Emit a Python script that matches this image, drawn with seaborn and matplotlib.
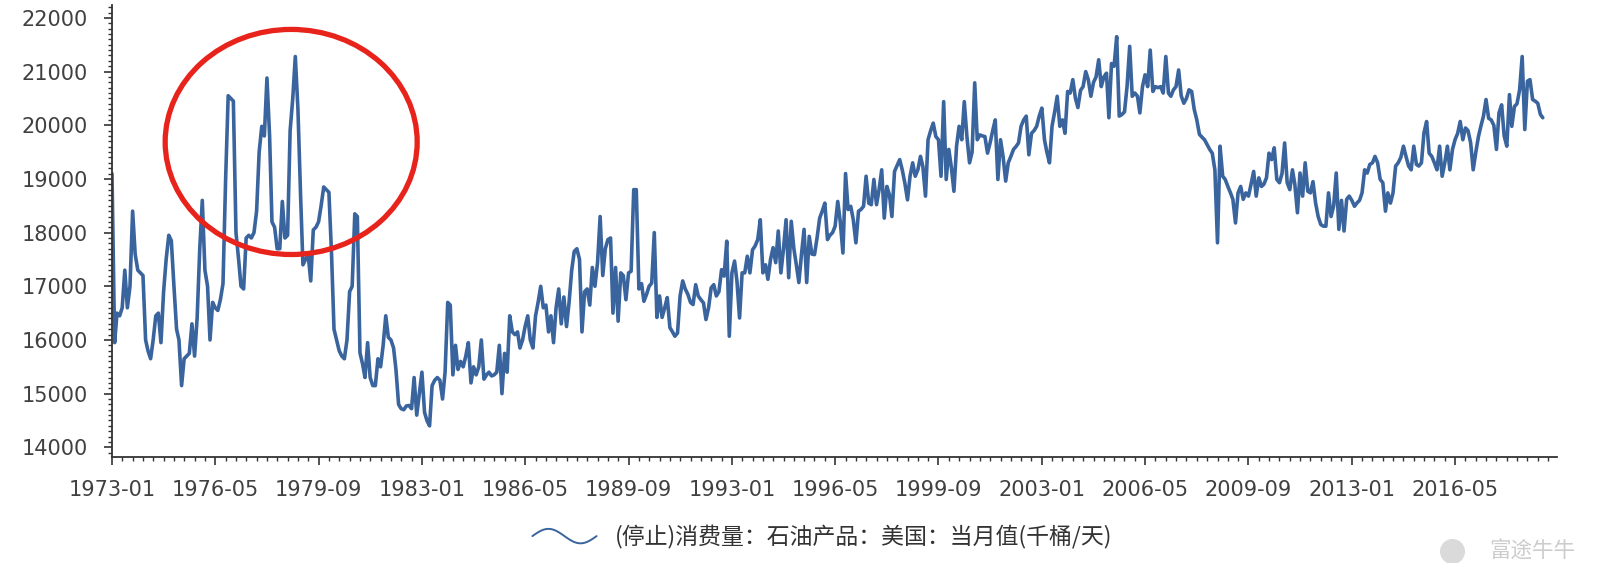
import numpy as np
import pandas as pd
import matplotlib
matplotlib.use("Agg")
import matplotlib.pyplot as plt
import seaborn as sns
from matplotlib.lines import Line2D
from matplotlib.patches import Ellipse
from matplotlib.legend_handler import HandlerBase
from matplotlib.ticker import MultipleLocator

# monthly values, thousand barrels / day, from 1973-01
cons_1970s = [
    19100, 15950, 16500, 16450, 16600, 17300, 16600, 17000, 18400, 17600, 17300, 17250,
    17200, 16000, 15800, 15650, 16000, 16450, 16500, 15950, 16900, 17500, 17950, 17850,
    17000, 16200, 16000, 15150, 15650, 15700, 15750, 16300, 15700, 16400, 17700, 18600,
    17300, 17000, 16000, 16700, 16600, 16550, 16750, 17050, 19000, 20550, 20500, 20450,
    18000, 17500, 17000, 16950, 17900, 17950, 17900, 18000, 18400, 19500, 19980, 19800,
    20880, 19800, 18200, 18100, 17700, 17700, 18580, 17900, 17950, 19900, 20500, 21280,
    20300, 18700, 17400, 17500, 17600, 17100, 18050, 18100, 18200, 18500, 18850, 18800,
]
cons_1980s = [
    18750, 17600, 16200, 16000, 15800, 15700, 15650, 16000, 16900, 17000, 18350, 18300,
    15760, 15550, 15300, 15950, 15300, 15150, 15150, 15650, 15500, 15900, 16450, 16050,
    16000, 15850, 15450, 14800, 14720, 14700, 14770, 14780, 14720, 15300, 14600, 15000,
    15400, 14650, 14500, 14400, 15150, 15250, 15300, 15250, 14900, 15400, 16700, 16650,
    15350, 15900, 15450, 15600, 15500, 15700, 15950, 15200, 15500, 15350, 15500, 16000,
    15270, 15350, 15400, 15330, 15350, 15400, 15900, 15000, 15750, 15400, 16450, 16150,
    16100, 16150, 15850, 16000, 16250, 16450, 16000, 15850, 16450, 16700, 17000, 16600,
    16650, 16150, 16450, 15950, 16600, 16950, 16300, 16800, 16250, 16700, 17300, 17650,
    17700, 17500, 16150, 16900, 16950, 16650, 17350, 17000, 17450, 18300, 17200, 17700,
    17870, 17900, 16500, 17350, 16350, 17250, 17200, 16750, 17250, 17280, 18800, 18800,
]
cons_1990s = [
    16950, 17050, 16720, 16850, 17000, 17060, 18000, 16420, 16820, 16420, 16600, 16790,
    16230, 16150, 16070, 16130, 16820, 17100, 16950, 16850, 16700, 16660, 17030, 16820,
    16750, 16690, 16380, 16600, 16970, 17030, 16820, 16900, 17310, 17190, 17840, 16070,
    17250, 17470, 17100, 16410, 17250, 17250, 17560, 17250, 17680, 17750, 17870, 18240,
    17250, 17400, 17130, 17500, 17720, 17440, 18030, 17250, 17700, 18240, 17160, 18210,
    17700, 17380, 17070, 17600, 18060, 17070, 17930, 17600, 17590, 17900, 18270, 18400,
    18550, 17870, 17950, 18000, 18120, 18580, 18200, 17620, 19100, 18430, 18490, 18240,
    17810, 18400, 18430, 18490, 19050, 18550, 18520, 18990, 18520, 18800, 19170, 18270,
    18860, 18700, 18300, 19140, 19250, 19360, 19170, 18920, 18610, 19050, 19300, 19050,
    19170, 19420, 19230, 18680, 19730, 19900, 20040, 19790, 19730, 19050, 20440, 18990,
]
cons_2000s = [
    19550, 19200, 18770, 19610, 19980, 19730, 20440, 19790, 19300, 19500, 20790, 19730,
    19820, 19800, 19790, 19480, 19670, 19900, 20100, 18990, 19730, 19420, 18960, 19300,
    19420, 19550, 19600, 19670, 19980, 20100, 20170, 19450, 19850, 19900, 19980, 20170,
    20320, 19730, 19500, 19300, 19980, 20250, 20540, 19980, 20100, 19850, 20630, 20600,
    20850, 20500, 20330, 20650, 20720, 21000, 20850, 20540, 20800, 20900, 21220, 20720,
    20900, 20970, 20140, 21150, 21100, 21650, 20170, 20200, 20250, 20720, 21470, 20540,
    20600, 20540, 20230, 20720, 20940, 20720, 21400, 20630, 20720, 20700, 20720, 20600,
    21280, 20600, 20540, 20660, 20720, 21030, 20550, 20410, 20500, 20660, 20630, 20300,
    20100, 19830, 19780, 19730, 19640, 19550, 19480, 19170, 17810, 19610, 19050, 18990,
    18860, 18740, 18620, 18180, 18740, 18860, 18620, 18740, 18680, 18900, 19140, 18680,
]
cons_2010s = [
    19020, 18860, 18900, 19020, 19480, 19360, 19580, 18990, 18930, 19100, 19670, 18930,
    18800, 19170, 18900, 18370, 19110, 18680, 19300, 18770, 18740, 18950, 18550, 18300,
    18150, 18120, 18120, 18740, 18300, 18500, 19110, 18060, 18600, 18030, 18620, 18680,
    18600, 18490, 18550, 18600, 18740, 19170, 19110, 19270, 19300, 19420, 19300, 18990,
    18930, 18400, 18740, 18550, 18740, 19240, 19300, 19400, 19610, 19420, 19240, 19170,
    19610, 19270, 19240, 19300, 19860, 20070, 19480, 19420, 19300, 19170, 19610, 19050,
    19300, 19610, 19170, 19550, 19730, 19850, 20070, 19730, 19950, 19900, 19670, 19170,
    19500, 19790, 19980, 20170, 20480, 20130, 20100, 20000, 19550, 20230, 20380, 19800,
    19610, 20570, 19980, 20350, 20400, 20660, 21280, 19920, 20820, 20850, 20480, 20450,
    20410, 20200, 20140,
]

series_label = "(停止)消费量：石油产品：美国：当月值(千桶/天)"
y_ticks = [14000, 15000, 16000, 17000, 18000, 19000, 20000, 21000, 22000]

values = cons_1970s + cons_1980s + cons_1990s + cons_2000s + cons_2010s
dates = pd.date_range("1973-01-01", periods=len(values), freq="MS")
df = pd.DataFrame({"date": dates, "value": values})

sns.set_style("ticks")
plt.rcParams["font.family"] = ["DejaVu Sans", "Noto Sans CJK SC"]

line_color = "#3a649d"
text_color = "#404040"
cjk = ["Noto Sans CJK SC", "DejaVu Sans"]

fig = plt.figure(figsize=(16, 5.63), dpi=100)
ax = fig.add_axes([0.07, 0.1883, 0.9031, 0.8028])

sns.lineplot(data=df, x="date", y="value", ax=ax, color=line_color,
             linewidth=2.6, label=series_label, legend=False)

ax.set_xlim(dates[0], pd.Timestamp("2019-08-15"))
ax.set_ylim(13820, 22240)

major = pd.date_range("1973-01-01", "2019-08-01", freq="40MS")
minor = pd.date_range("1973-01-01", "2019-08-01", freq="4MS")
ax.set_xticks(major)
ax.set_xticklabels(major.strftime("%Y-%m"))
ax.set_xticks(minor, minor=True)
ax.set_yticks(y_ticks)
ax.yaxis.set_minor_locator(MultipleLocator(100))

ax.set_xlabel("")
ax.set_ylabel("")
sns.despine(ax=ax)
for s in ["left", "bottom"]:
    ax.spines[s].set_color("#333333")
    ax.spines[s].set_linewidth(1.3)

ax.tick_params(axis="both", which="major", length=5.5, width=1.2, color="#333333",
               labelsize=15, labelcolor=text_color)
ax.tick_params(axis="both", which="minor", length=3, width=1.0, color="#333333")
ax.tick_params(axis="y", which="major", pad=12)
ax.tick_params(axis="x", which="major", pad=11)

# red highlight ellipse around the 1970s peaks
ax.add_patch(Ellipse((0.124, 0.697), 0.1744, 0.498, transform=ax.transAxes,
                     fill=False, edgecolor="#e8231b", linewidth=3.8,
                     zorder=5, clip_on=False))


class WaveHandler(HandlerBase):
    def create_artists(self, legend, orig_handle, xdescent, ydescent,
                       width, height, fontsize, trans):
        t = np.linspace(0, 1, 80)
        xs = -xdescent + width * t
        ys = -ydescent + height / 2 + height * 0.45 * np.sin(2 * np.pi * t)
        wave = Line2D(xs, ys, color=orig_handle.get_color(), lw=1.4)
        wave.set_transform(trans)
        return [wave]


handles, labels = ax.get_legend_handles_labels()
leg = fig.legend(handles, labels, loc="center", bbox_to_anchor=(0.514, 0.046),
                 frameon=False, handlelength=2.8, handletextpad=0.8,
                 handler_map={Line2D: WaveHandler()},
                 prop={"family": cjk, "size": 16.5})
for t in leg.get_texts():
    t.set_color("#333333")

# watermark
wy = 1 - 551 / 563
fig.add_artist(Line2D([0.9075], [wy], marker="o", markersize=17, color="#dadada",
                      linestyle="none", transform=fig.transFigure))
fig.text(0.931, wy, "富途牛牛", fontsize=15.5, color="#cccccc",
         ha="left", va="center", family=cjk)

fig.savefig("out.png", dpi=100, facecolor="white")
plt.close(fig)
